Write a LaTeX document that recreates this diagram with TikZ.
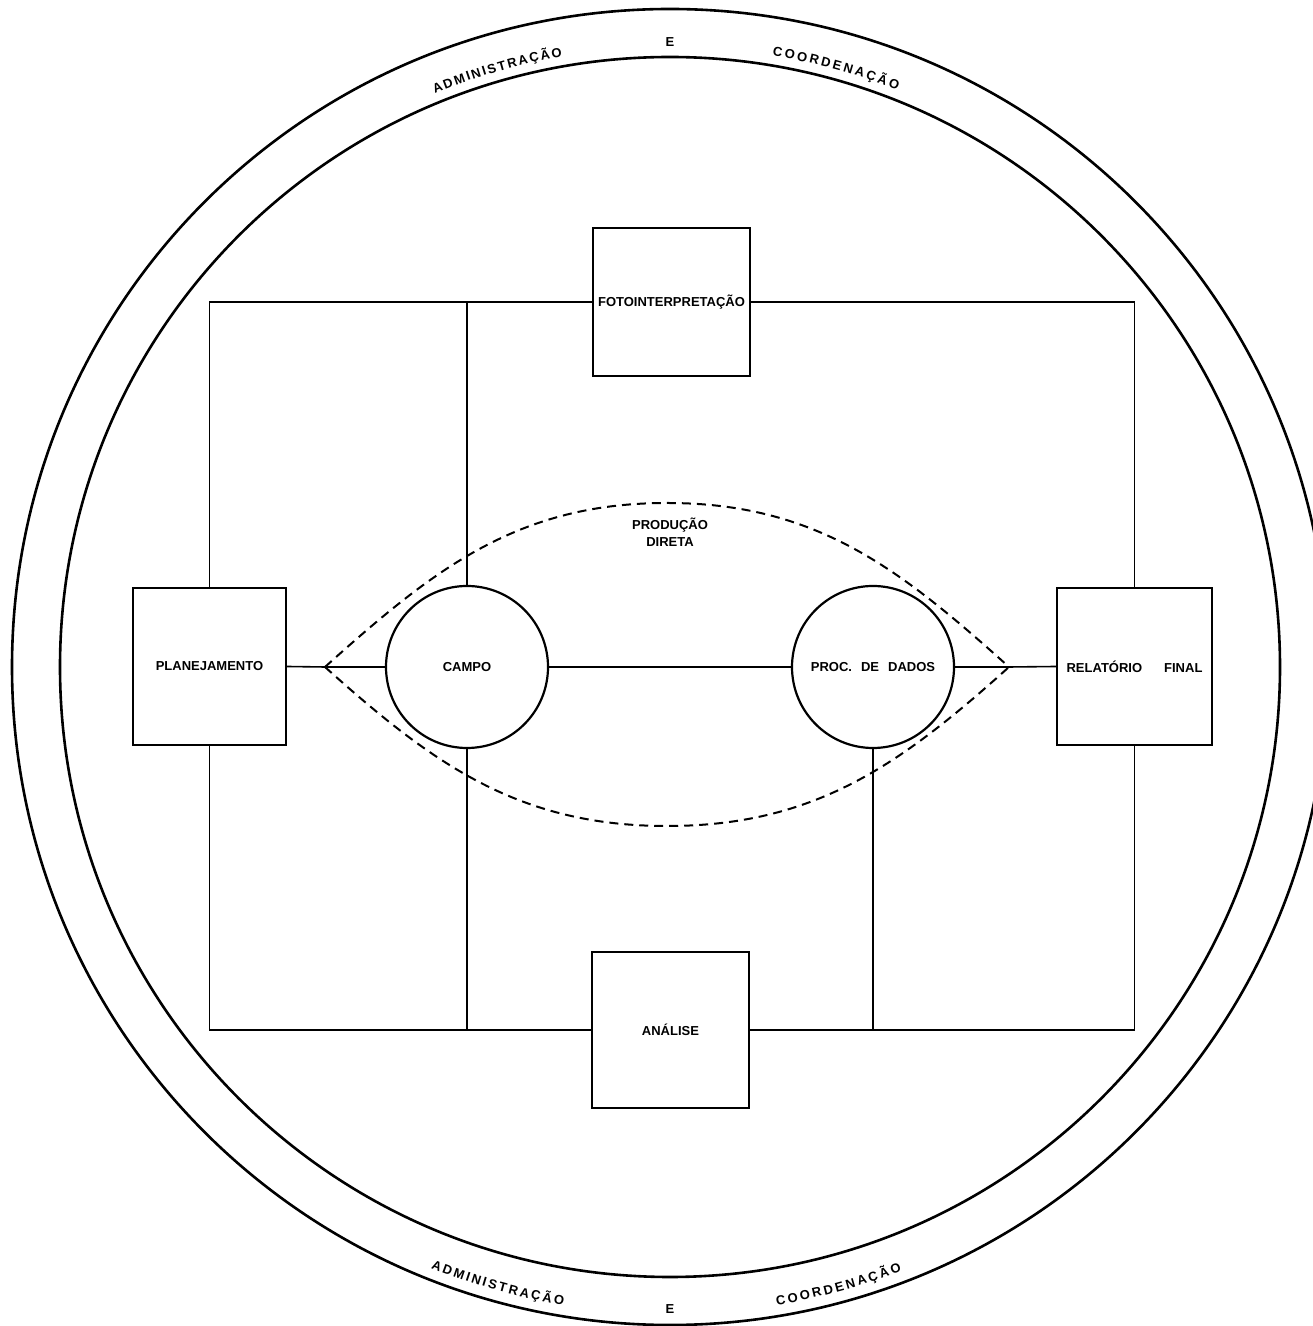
\documentclass[tikz,border=0pt]{standalone}
\usepackage{fontspec}
\setmainfont{Liberation Sans}
\usetikzlibrary{decorations.text}
\newcommand\diaglabel{\fontsize{13}{17}\selectfont\bfseries}
\newcommand\diagring{\fontsize{13}{15}\selectfont\bfseries}
\begin{document}
\begin{tikzpicture}[x=1pt,y=1pt,
  box/.style={draw, line width=2pt, minimum width=155pt, minimum height=155pt, inner sep=0pt, font=\diaglabel},
  disc/.style={draw, circle, line width=2.2pt, minimum size=162pt, inner sep=0pt, font=\diaglabel},
  link/.style={line width=1.6pt},
  ring/.style={line width=2.6pt},
  lens/.style={line width=2pt, dash pattern=on 9pt off 6pt},
  ringfit/.style={decorate, decoration={text along path, text align={fit to path}, text={|\diagring|#1}}},
  ringmid/.style={decorate, decoration={text along path, text align={center}, text={|\diagring|#1}}}
]
\useasboundingbox (0,0) rectangle (1313,1326);
\clip (0,0) rectangle (1313,1326);

% rings
\begin{scope}[shift={(670,659)}]
  \draw[ring] (0,0) circle[radius=658];
  \draw[ring] (0,0) circle[radius=610];
  \path[ringfit=ADMINISTRAÇÃO] (112.3:620) arc[start angle=112.3, end angle=100, radius=620];
  \path[ringmid=E] (95:620) arc[start angle=95, end angle=85, radius=620];
  \path[ringfit=COORDENAÇÃO] (80.5:620) arc[start angle=80.5, end angle=68.5, radius=620];
  \path[ringfit=ADMINISTRAÇÃO] (248.3:647) arc[start angle=248.3, end angle=260.5, radius=647];
  \path[ringmid=E] (265:647) arc[start angle=265, end angle=275, radius=647];
  \path[ringfit=COORDENAÇÃO] (279.5:647) arc[start angle=279.5, end angle=291, radius=647];
\end{scope}

% nodes
\node[box, minimum width=157pt, minimum height=148pt] (foto) at (671.5,1024) {FOTOINTERPRETAÇÃO};
\node[box, minimum width=157pt, minimum height=156pt] (analise) at (670.5,296) {ANÁLISE};
\node[box, minimum width=153pt, minimum height=157pt] (plan) at (209.5,659.5) {PLANEJAMENTO};
\node[box, minimum width=155pt, minimum height=157pt] (rel) at (1134.5,659.5) {RELATÓRIO\hspace{22pt}FINAL};
\node[disc] (campo) at (467,659) {CAMPO};
\node[disc] (proc) at (873,659) {PROC.\hspace{9pt}DE\hspace{9pt}DADOS};
\node[font=\diaglabel, align=center, inner sep=0pt] (prod) at (670,794) {PRODUÇÃO\\DIRETA};

\coordinate (apL) at (325,659);
\coordinate (apR) at (1009,659);
\coordinate (lensT) at (667,823);
\coordinate (lensB) at (667,500);

% frame connectors
\draw[link] (plan.north) -- (plan.north |- foto.west) -- (foto.west);
\draw[link] (foto.east) -- (rel.north |- foto.east) -- (rel.north);
\draw[link] (plan.south) -- (plan.south |- analise.west) -- (analise.west);
\draw[link] (analise.east) -- (rel.south |- analise.east) -- (rel.south);
\draw[link] (campo.north) -- (campo.north |- foto.west);
\draw[link] (campo.south) -- (campo.south |- analise.west);
\draw[link] (proc.south) -- (proc.south |- analise.east);

% central axis
\draw[link] (plan.east) -- (apL) -- (campo.west);
\draw[link] (campo.east) -- (proc.west);
\draw[link] (proc.east) -- (apR) -- (rel.west);

% lens
\draw[lens] (apL) to[out=42,in=180] (lensT) to[out=0,in=138] (apR);
\draw[lens] (apL) to[out=-42,in=180] (lensB) to[out=0,in=-138] (apR);
\end{tikzpicture}
\end{document}
